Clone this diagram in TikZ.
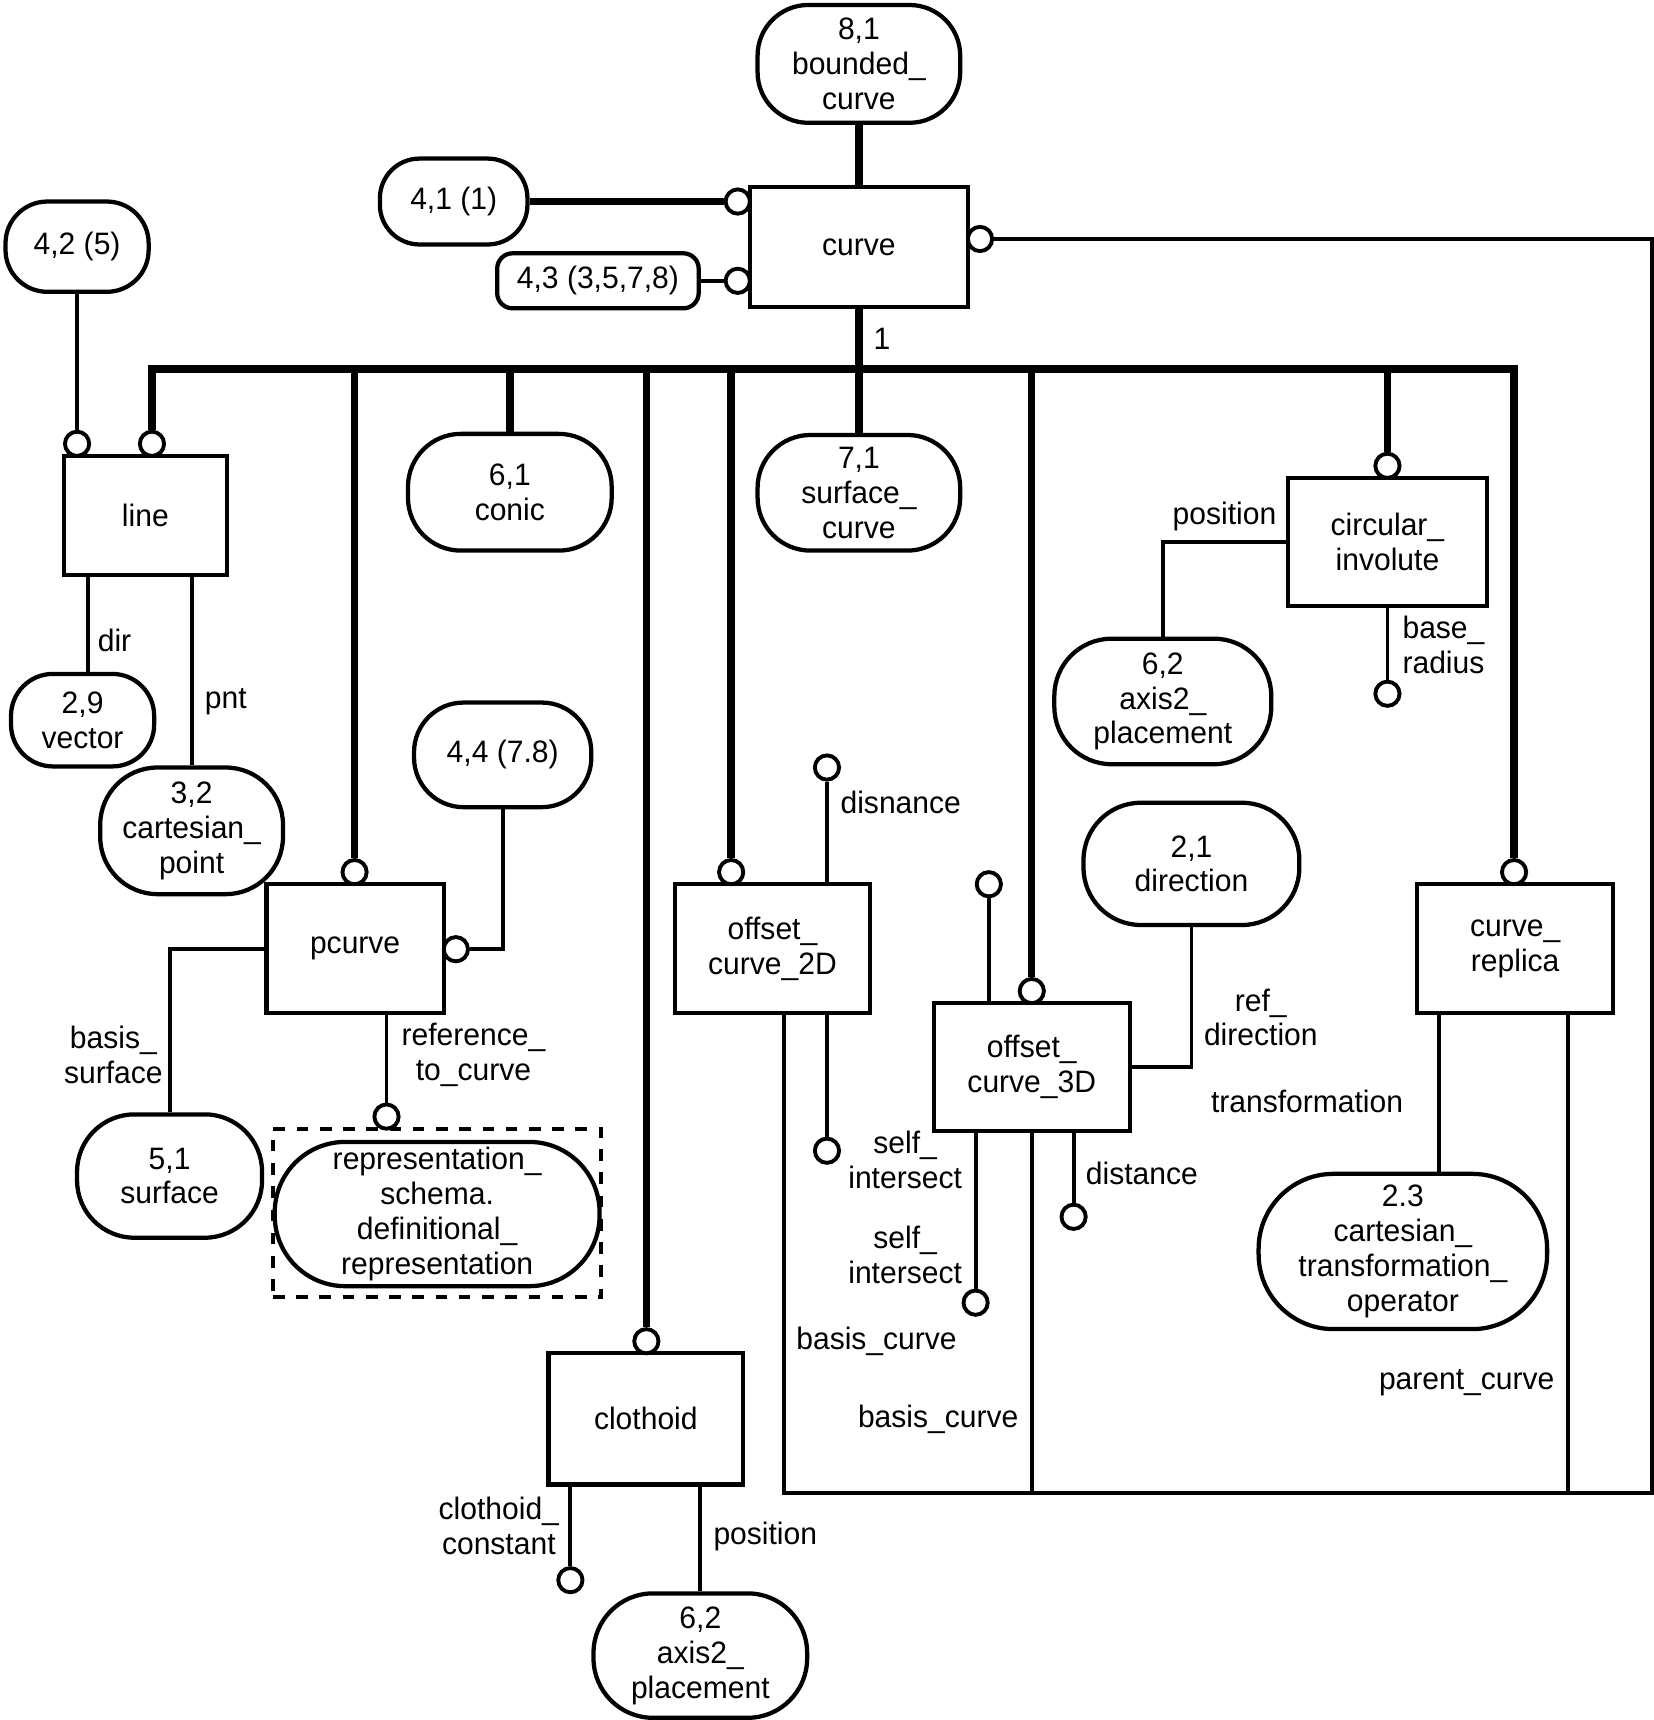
\documentclass[tikz,border=0pt]{standalone}
\usepackage{fontspec}
\setmainfont{Liberation Sans}[FakeStretch=0.97]
\usetikzlibrary{calc}
\begin{document}
\begin{tikzpicture}[x=0.01cm,y=-0.01cm,
  every node/.style={font=\fontsize{8}{9}\selectfont, inner sep=0pt, align=center},
  bx/.style 2 args={draw, line width=1.1pt, minimum width=#1*0.01cm, minimum height=#2*0.01cm},
  rb/.style n args={3}{draw, line width=1.1pt, rounded corners=#3*0.01cm, minimum width=#1*0.01cm, minimum height=#2*0.01cm},
  ring/.style={draw, circle, line width=1pt, minimum size=0.22cm, fill=white},
  thk/.style={line width=1.9pt},
  thn/.style={line width=1pt}
]
\useasboundingbox (0,0) rectangle (1502,1562);

% entity nodes
\node[rb={184}{107}{46}] (bc) at (780,58) {8,1\\bounded\_\\curve};
\node[bx={198}{109}] (curve) at (780,224.5) {curve};
\node[rb={134}{78}{36}] (n41) at (412,183) {4,1 (1)};
\node[rb={183}{50}{14}] (n43) at (543,255) {4,3 (3,5,7,8)};
\node[rb={130}{82}{38}] (n42) at (70,224) {4,2 (5)};
\node[bx={148}{108}] (line) at (132,468) {line};
\node[rb={130}{84}{38}] (vec) at (75,654) {2,9\\vector};
\node[rb={166}{115}{52}] (cp) at (174,754.5) {3,2\\cartesian\_\\point};
\node[rb={185}{106}{48}] (conic) at (463,447) {6,1\\conic};
\node[rb={184}{105}{48}] (sc) at (780,447.5) {7,1\\surface\_\\curve};
\node[bx={181}{116}] (ci) at (1260,492) {circular\_\\involute};
\node[rb={197}{114}{52}] (ax1) at (1056,637) {6,2\\axis2\_\\placement};
\node[rb={161}{95}{45}] (n44) at (456.5,685.5) {4,4 (7.8)};
\node[bx={161}{117}] (pc) at (322.5,861.5) {pcurve};
\node[rb={168}{112}{52}] (surf) at (154,1068) {5,1\\surface};
\node[draw, dashed, line width=1pt, minimum width=2.98cm, minimum height=1.53cm] (dsh) at (397,1101.5) {};
\node[rb={295}{131}{64}] (rep) at (397,1102.5) {representation\_\\schema.\\definitional\_\\representation};
\node[bx={177}{117}] (oc2) at (701.5,861.5) {offset\_\\curve\_2D};
\node[bx={178}{116}] (oc3) at (937,969) {offset\_\\curve\_3D};
\node[rb={196}{111}{52}] (dir) at (1082,784.5) {2,1\\direction};
\node[bx={178}{117}] (cr) at (1376,861.5) {curve\_\\replica};
\node[rb={262}{141}{68}] (cto) at (1274,1136.5) {2.3\\cartesian\_\\transformation\_\\operator};
\node[bx={177}{119}] (cl) at (586.5,1288.5) {clothoid};
\node[rb={194}{113}{54}] (ax2) at (636,1503.5) {6,2\\axis2\_\\placement};

% rings
\node[ring] (r41) at (670,183) {};
\node[ring] (r43) at (670,255) {};
\node[ring] (rcu) at (890,217) {};
\node[ring] (rl1) at (70,403) {};
\node[ring] (rl2) at (138,403) {};
\node[ring] (rpc) at (322,792) {};
\node[ring] (rpc2) at (414,862) {};
\node[ring] (rref) at (351,1014) {};
\node[ring] (rcl) at (587,1218) {};
\node[ring] (rcl2) at (518,1435) {};
\node[ring] (roc2) at (664,792) {};
\node[ring] (rdis) at (751,697) {};
\node[ring] (rsi2) at (751,1045) {};
\node[ring] (roc3) at (937,900) {};
\node[ring] (r3d) at (898,803) {};
\node[ring] (rsi3) at (886,1183) {};
\node[ring] (rdst) at (975,1105) {};
\node[ring] (rci) at (1260,423) {};
\node[ring] (rbr) at (1260,630) {};
\node[ring] (rcr) at (1375,792) {};

% helper coordinates
\coordinate (bus) at (780,335);
\coordinate (lp1) at (1500,1356);
\coordinate (lp2) at (712,1356);
\coordinate (crA) at ($(cr.south)+(-69,0)$);
\coordinate (crB) at ($(cr.south)+(48,0)$);
\coordinate (lA) at ($(line.south)+(-52,0)$);

% thick connectors
\draw[thk] (bc) -- (curve);
\draw[thk] (n41.east) -- (r41.west);
\draw[thk] (curve.south) -- (bus);
\draw[thk] (rl2.north) |- (bus) -| (rcr.north);
\draw[thk] (rpc.north) -- (rpc.north |- bus);
\draw[thk] (conic.north) -- (conic.north |- bus);
\draw[thk] (rcl.north) -- (rcl.north |- bus);
\draw[thk] (roc2.north) -- (roc2.north |- bus);
\draw[thk] (sc.north) -- (bus);
\draw[thk] (roc3.north) -- (roc3.north |- bus);
\draw[thk] (rci.north) -- (rci.north |- bus);

% thin connectors
\draw[thn] (n43.east) -- (r43.west);
\draw[thn] (n42.south) -- (rl1.north);
\draw[thn] (rcu.east) -| (lp1) -- (lp2) -- (lp2 |- oc2.south);
\draw[thn] (oc3.south) -- (oc3.south |- lp1);
\draw[thn] (crB) -- (crB |- lp1);
\draw[thn] (crA) -- (crA |- cto.north);
\draw[thn] (lA) -- (lA |- vec.north);
\draw[thn] (cp.north |- line.south) -- (cp.north);
\draw[thn] (ci.west) -| (ax1.north);
\draw[thn] (ci.south) -- (rbr.north);
\draw[thn] (n44.south) |- (rpc2.east);
\draw[thn] (pc.west) -| (surf.north);
\draw[thn] (rref.north |- pc.south) -- (rref.north);
\draw[thn] (rdis.south) -- (rdis.south |- oc2.north);
\draw[thn] (rsi2.north |- oc2.south) -- (rsi2.north);
\draw[thn] (r3d.south) -- (r3d.south |- oc3.north);
\draw[thn] (rsi3.north |- oc3.south) -- (rsi3.north);
\draw[thn] (rdst.north |- oc3.south) -- (rdst.north);
\draw[thn] (dir.south) |- (oc3.east);
\draw[thn] (rcl2.north |- cl.south) -- (rcl2.north);
\draw[thn] (ax2.north |- cl.south) -- (ax2.north);

% labels
\node (l1) at (801,308) {1};
\node (ldir) at (104,582) {dir};
\node (lpnt) at (205,637) {pnt};
\node (lpos1) at (1112,469) {position};
\node[anchor=west, align=left] (lbr) at (1273,586) {base\_\\radius};
\node (lbs) at (103,958) {basis\_\\surface};
\node (lref) at (430,958) {reference\_\\to\_curve};
\node (ldis) at (818,729) {disnance};
\node (lsi1) at (822,1053) {self\_\\intersect};
\node (lsi2) at (822,1140) {self\_\\intersect};
\node (lrd) at (1145,924) {ref\_\\direction};
\node (ltr) at (1187,1000) {transformation};
\node (ldst) at (1037,1066) {distance};
\node (lbc1) at (796,1218) {basis\_curve};
\node (lbc2) at (852,1289) {basis\_curve};
\node (lpar) at (1332,1256) {parent\_curve};
\node (lcc) at (453,1386) {clothoid\_\\constant};
\node (lpos2) at (695,1395) {position};
\end{tikzpicture}
\end{document}
